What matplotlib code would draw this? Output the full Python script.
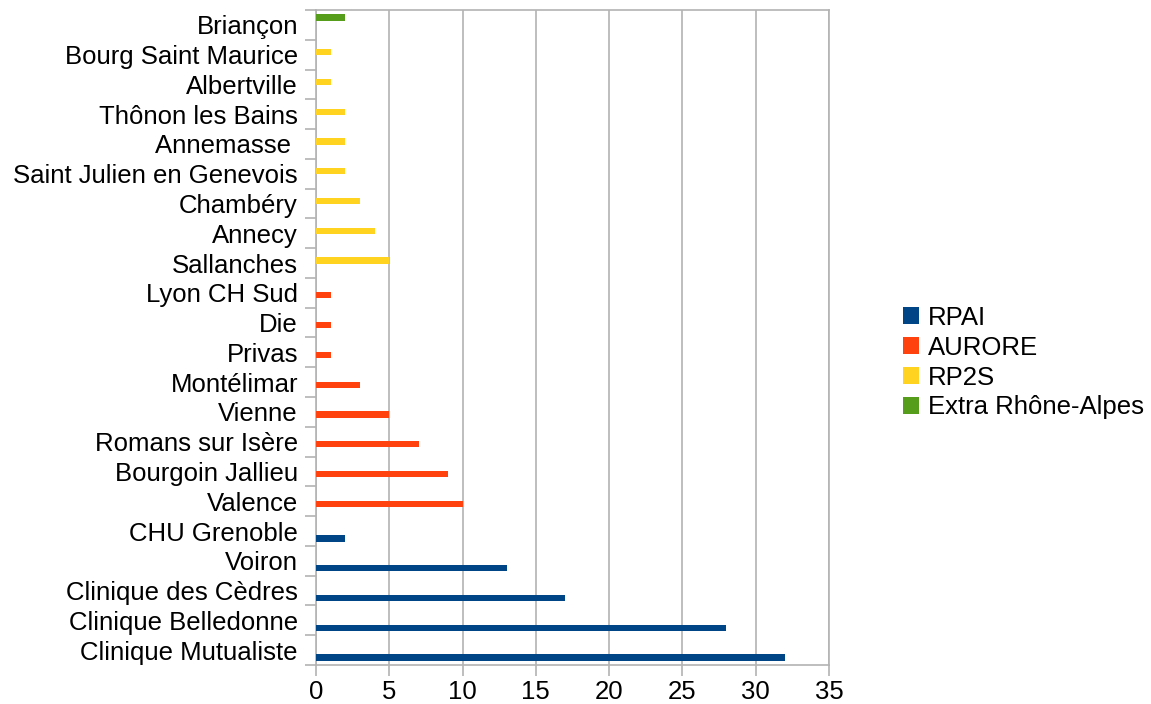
import matplotlib.pyplot as plt
import numpy as np

plt.rcParams['font.family'] = ['Liberation Sans', 'DejaVu Sans']

# categories from bottom to top
sites = ['Clinique Mutualiste', 'Clinique Belledonne', 'Clinique des Cèdres', 'Voiron',
         'CHU Grenoble', 'Valence', 'Bourgoin Jallieu', 'Romans sur Isère', 'Vienne',
         'Montélimar', 'Privas', 'Die', 'Lyon CH Sud', 'Sallanches', 'Annecy', 'Chambéry',
         'Saint Julien en Genevois', 'Annemasse ', 'Thônon les Bains', 'Albertville',
         'Bourg Saint Maurice', 'Briançon']

rpai = [32, 28, 17, 13, 2, 0, 0, 0, 0, 0, 0, 0, 0, 0, 0, 0, 0, 0, 0, 0, 0, 0]
aurore = [0, 0, 0, 0, 0, 10, 9, 7, 5, 3, 1, 1, 1, 0, 0, 0, 0, 0, 0, 0, 0, 0]
rp2s = [0, 0, 0, 0, 0, 0, 0, 0, 0, 0, 0, 0, 0, 5, 4, 3, 2, 2, 2, 1, 1, 0]
extra = [0, 0, 0, 0, 0, 0, 0, 0, 0, 0, 0, 0, 0, 0, 0, 0, 0, 0, 0, 0, 0, 2]

series = [('RPAI', rpai, '#004586'), ('AURORE', aurore, '#ff420e'),
          ('RP2S', rp2s, '#ffd320'), ('Extra Rhône-Alpes', extra, '#579d1c')]

fig = plt.figure(figsize=(11.51, 7.04), dpi=100)
ax = fig.add_axes([0.2745, 0.0554, 0.4458, 0.9304])

y = np.arange(len(sites))
h = 0.21
offsets = [-0.25, -0.083, 0.083, 0.25]
for (name, vals, col), off in zip(series, offsets):
    ax.barh(y + off, vals, height=h, color=col, label=name, zorder=3)

ax.set_ylim(-0.5, len(sites) - 0.5)
ax.set_xlim(0, 35)
ax.set_xticks(range(0, 36, 5))
ax.set_yticks(y)
ax.set_yticklabels(sites)
ax.set_yticks(np.arange(-0.5, len(sites), 1), minor=True)
ax.tick_params(axis='y', which='major', length=0, pad=13, labelsize=18.5)
ax.tick_params(axis='y', which='minor', length=8, color='#b3b3b3', width=1.2)
ax.tick_params(axis='x', length=8, color='#b3b3b3', width=1.2, labelsize=18.5, pad=3)
ax.xaxis.grid(True, color='#b3b3b3', linewidth=1.2, zorder=0)
for s in ax.spines.values():
    s.set_color('#b3b3b3')
    s.set_linewidth(1.2)

ax.legend(loc='center left', bbox_to_anchor=(0.776, 0.485), bbox_transform=fig.transFigure,
          frameon=False, fontsize=18.5, handlelength=0.6, handleheight=0.6,
          handletextpad=0.35, labelspacing=0.23, borderaxespad=0)

fig.savefig('out.png', dpi=100)
